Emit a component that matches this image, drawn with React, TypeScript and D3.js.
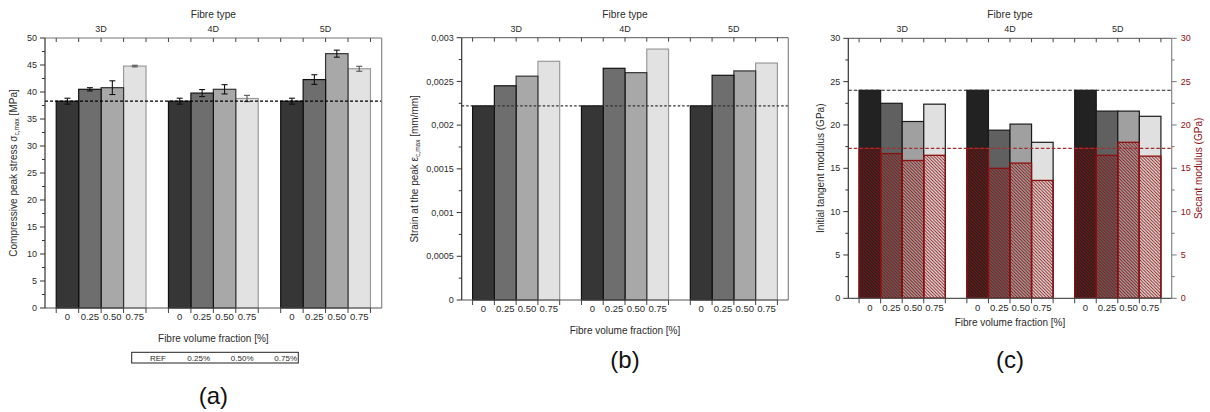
import React from "react";
import * as d3 from "d3";

// Categories
const fibreTypes = ["3D", "4D", "5D"];
const fractionLabels = ["0", "0.25", "0.50", "0.75"];
const legendLabels = ["REF", "0.25%", "0.50%", "0.75%"];

// Compressive peak stress [MPa] per fibre type (REF, 0.25, 0.50, 0.75)
const peakStress = [
  [38.3, 40.5, 40.8, 44.8],
  [38.3, 39.8, 40.5, 38.8],
  [38.3, 42.3, 47.1, 44.3],
];
const peakStressErr = [
  [0.55, 0.3, 1.27, 0.15],
  [0.55, 0.65, 0.86, 0.58],
  [0.55, 0.9, 0.65, 0.46],
];

// Strain at the peak [mm/mm]
const peakStrain = [
  [0.00222, 0.00245, 0.00256, 0.00273],
  [0.00222, 0.00265, 0.0026, 0.00287],
  [0.00222, 0.00257, 0.00262, 0.00271],
];

// Initial tangent modulus and secant modulus [GPa]
const tangentModulus = [
  [24.0, 22.5, 20.4, 22.4],
  [24.0, 19.4, 20.1, 18.0],
  [24.0, 21.6, 21.6, 21.0],
];
const secantModulus = [
  [17.3, 16.7, 15.9, 16.5],
  [17.3, 15.0, 15.6, 13.6],
  [17.3, 16.5, 18.0, 16.4],
];

const FONT = "'Liberation Sans', Arial, sans-serif";
const TEXT = "#2b2b2b";
const RED = "#8b1010";
const GREY_FILLS = ["#363636", "#6e6e6e", "#a8a8a8", "#e2e2e2"];
const GREY_STROKES = ["#111", "#111", "#333", "#9a9a9a"];
const MOD_FILLS = ["#222222", "#606060", "#a0a0a0", "#e0e0e0"];

type PanelCfg = {
  left: number;
  right: number;
  top: number;
  bottom: number;
  yMax: number;
  step: number;
  fmt: (v: number) => string;
  xTitleOffset: number;
  label: string;
  labelY: number;
};

const slotOf = (g: number, k: number) => g * 5 + k + 0.5;

function Frame({ cfg, x, y, rightTicks }: any) {
  const nMajor = Math.round(cfg.yMax / cfg.step);
  const majors = d3.range(nMajor + 1).map((i) => i * cfg.step);
  const minors = d3.range(nMajor).map((i) => (i + 0.5) * cfg.step);
  const edges = d3.range(15).map((i) => i + 0.5);
  return (
    <g fontFamily={FONT}>
      {/* top and right frame */}
      <line x1={cfg.left} x2={cfg.right} y1={cfg.top} y2={cfg.top} stroke="#777" strokeWidth={1.2} />
      <line x1={cfg.right} x2={cfg.right} y1={cfg.top} y2={cfg.bottom} stroke="#888" strokeWidth={1.2} />
      {edges.map((e) => (
        <line key={"tt" + e} x1={x(e)} x2={x(e)} y1={cfg.top} y2={cfg.top + 4} stroke="#444" strokeWidth={1} />
      ))}
      {/* bottom axis */}
      <line x1={cfg.left} x2={cfg.right} y1={cfg.bottom} y2={cfg.bottom} stroke="#555" strokeWidth={1.2} />
      {edges.map((e) => (
        <line key={"bt" + e} x1={x(e)} x2={x(e)} y1={cfg.bottom} y2={cfg.bottom + 5} stroke="#444" strokeWidth={1} />
      ))}
      {/* left axis */}
      <line x1={cfg.left} x2={cfg.left} y1={cfg.top} y2={cfg.bottom} stroke="#333" strokeWidth={1.2} />
      {majors.map((v) => (
        <g key={"ym" + v}>
          <line x1={cfg.left - 5} x2={cfg.left} y1={y(v)} y2={y(v)} stroke="#333" />
          <text x={cfg.left - 8} y={y(v)} dy="0.35em" textAnchor="end" fontSize={9} fill={TEXT}>
            {cfg.fmt(v)}
          </text>
        </g>
      ))}
      {minors.map((v) => (
        <line key={"yn" + v} x1={cfg.left - 3} x2={cfg.left} y1={y(v)} y2={y(v)} stroke="#333" />
      ))}
      {rightTicks && (
        <g>
          {majors.map((v) => (
            <g key={"rm" + v}>
              <line x1={cfg.right} x2={cfg.right + 5} y1={y(v)} y2={y(v)} stroke="#777" />
              <text x={cfg.right + 9} y={y(v)} dy="0.35em" textAnchor="start" fontSize={9} fill={RED}>
                {cfg.fmt(v)}
              </text>
            </g>
          ))}
          {minors.map((v) => (
            <line key={"rn" + v} x1={cfg.right} x2={cfg.right + 3} y1={y(v)} y2={y(v)} stroke="#777" />
          ))}
        </g>
      )}
      {/* category labels */}
      {fibreTypes.map((t, g) => (
        <g key={t}>
          <text x={x(g * 5 + 2.5)} y={29} dy="0.35em" textAnchor="middle" fontSize={9} fill={TEXT}>
            {t}
          </text>
          {fractionLabels.map((f, k) => (
            <text
              key={f}
              x={x(slotOf(g, k) + 0.5)}
              y={cfg.bottom + 9}
              dy="0.35em"
              textAnchor="middle"
              fontSize={9.5}
              fill={TEXT}
            >
              {f}
            </text>
          ))}
        </g>
      ))}
      <text x={(cfg.left + cfg.right) / 2} y={14} dy="0.35em" textAnchor="middle" fontSize={10.2} fill={TEXT}>
        Fibre type
      </text>
      <text
        x={(cfg.left + cfg.right) / 2}
        y={cfg.bottom + cfg.xTitleOffset}
        dy="0.35em"
        textAnchor="middle"
        fontSize={10}
        fill={TEXT}
      >
        Fibre volume fraction [%]
      </text>
      <text x={(cfg.left + cfg.right) / 2} y={cfg.labelY} dy="0.35em" textAnchor="middle" fontSize={24} fill="#111">
        {cfg.label}
      </text>
    </g>
  );
}

function GreyBars({ x, y, data }: any) {
  const w = x(1) - x(0);
  const items: any[] = [];
  data.forEach((row: number[], g: number) => {
    for (let k = 3; k >= 0; k--) {
      items.push(
        <rect
          key={g + "-" + k}
          x={x(slotOf(g, k))}
          y={y(row[k])}
          width={w}
          height={y(0) - y(row[k])}
          fill={GREY_FILLS[k]}
          stroke={GREY_STROKES[k]}
          strokeWidth={1.2}
        />
      );
    }
  });
  return <g>{items}</g>;
}

function PanelA() {
  const cfg: PanelCfg = {
    left: 45, right: 381.7, top: 38, bottom: 308, yMax: 50, step: 5,
    fmt: (v) => String(v), xTitleOffset: 30, label: "(a)", labelY: 396,
  };
  const x = d3.scaleLinear().domain([0, 15]).range([cfg.left, cfg.right]);
  const y = d3.scaleLinear().domain([0, cfg.yMax]).range([cfg.bottom, cfg.top]);
  const ref = peakStress[0][0];
  const legendEnds = [166, 210, 253.5, 297];
  return (
    <g>
      <GreyBars x={x} y={y} data={peakStress} />
      {peakStress.map((row, g) =>
        row.map((v, k) => {
          const cx = x(slotOf(g, k) + 0.5);
          const e = peakStressErr[g][k];
          const col = k === 3 ? "#555" : "#111";
          return (
            <g key={g + "e" + k} stroke={col} strokeWidth={1.1}>
              <line x1={cx} x2={cx} y1={y(v - e)} y2={y(v + e)} />
              <line x1={cx - 3} x2={cx + 3} y1={y(v - e)} y2={y(v - e)} />
              <line x1={cx - 3} x2={cx + 3} y1={y(v + e)} y2={y(v + e)} />
            </g>
          );
        })
      )}
      <line x1={cfg.left} x2={cfg.right} y1={y(ref)} y2={y(ref)} stroke="#000" strokeWidth={1.2} strokeDasharray="3,2" />
      <Frame cfg={cfg} x={x} y={y} />
      <text
        transform={`translate(13,${(cfg.top + cfg.bottom) / 2}) rotate(-90)`}
        textAnchor="middle"
        dy="0.35em"
        fontFamily={FONT}
        fontSize={10}
        fill={TEXT}
      >
        Compressive peak stress σ
        <tspan fontSize={6.5} dy={2.5}>c,max</tspan>
        <tspan dy={-2.5}> [MPa]</tspan>
      </text>
      <rect x={131.7} y={352.3} width={166.6} height={10.7} fill="#fff" stroke="#222" strokeWidth={1} />
      {legendLabels.map((l, i) => (
        <text key={l} x={legendEnds[i]} y={357.7} dy="0.35em" textAnchor="end" fontFamily={FONT} fontSize={8} fill={TEXT}>
          {l}
        </text>
      ))}
    </g>
  );
}

function PanelB() {
  const cfg: PanelCfg = {
    left: 461.7, right: 788.3, top: 37.7, bottom: 300, yMax: 0.003, step: 0.0005,
    fmt: (v) => (v === 0 ? "0" : String(+v.toFixed(4)).replace(".", ",")),
    xTitleOffset: 30, label: "(b)", labelY: 360,
  };
  const x = d3.scaleLinear().domain([0, 15]).range([cfg.left, cfg.right]);
  const y = d3.scaleLinear().domain([0, cfg.yMax]).range([cfg.bottom, cfg.top]);
  const ref = peakStrain[0][0];
  return (
    <g>
      <GreyBars x={x} y={y} data={peakStrain} />
      <line x1={cfg.left} x2={cfg.right} y1={y(ref)} y2={y(ref)} stroke="#333" strokeWidth={1.3} strokeDasharray="2.5,2" />
      <Frame cfg={cfg} x={x} y={y} />
      <text
        transform={`translate(414,${(cfg.top + cfg.bottom) / 2}) rotate(-90)`}
        textAnchor="middle"
        dy="0.35em"
        fontFamily={FONT}
        fontSize={10}
        fill={TEXT}
      >
        Strain at the peak ε
        <tspan fontSize={6.5} dy={2.5}>c,max</tspan>
        <tspan dy={-2.5}> [mm/mm]</tspan>
      </text>
    </g>
  );
}

function PanelC() {
  const cfg: PanelCfg = {
    left: 848.3, right: 1171.7, top: 38.3, bottom: 298.3, yMax: 30, step: 5,
    fmt: (v) => String(v), xTitleOffset: 24, label: "(c)", labelY: 360,
  };
  const x = d3.scaleLinear().domain([0, 15]).range([cfg.left, cfg.right]);
  const y = d3.scaleLinear().domain([0, cfg.yMax]).range([cfg.bottom, cfg.top]);
  const w = x(1) - x(0);
  return (
    <g>
      <defs>
        <pattern id="secantHatch" patternUnits="userSpaceOnUse" width={3.2} height={3.2}>
          <path d="M-1,-1 L4.2,4.2 M-1,2.2 L1,4.2 M2.2,-1 L4.2,1" stroke={RED} strokeWidth={0.9} />
        </pattern>
      </defs>
      {tangentModulus.map((row, g) =>
        row.map((v, k) => (
          <rect
            key={g + "t" + k}
            x={x(slotOf(g, k))}
            y={y(v)}
            width={w}
            height={y(0) - y(v)}
            fill={MOD_FILLS[k]}
            stroke="#1a1a1a"
            strokeWidth={1.2}
          />
        ))
      )}
      {secantModulus.map((row, g) =>
        row.map((v, k) => (
          <rect
            key={g + "s" + k}
            x={x(slotOf(g, k))}
            y={y(v)}
            width={w}
            height={y(0) - y(v)}
            fill="url(#secantHatch)"
            stroke={RED}
            strokeWidth={1.3}
          />
        ))
      )}
      <line x1={cfg.left} x2={cfg.right} y1={y(tangentModulus[0][0])} y2={y(tangentModulus[0][0])} stroke="#222" strokeWidth={1.1} strokeDasharray="3.5,2" />
      <line x1={cfg.left} x2={cfg.right} y1={y(secantModulus[0][0])} y2={y(secantModulus[0][0])} stroke="#a03030" strokeWidth={1.1} strokeDasharray="3.5,2" />
      <Frame cfg={cfg} x={x} y={y} rightTicks />
      <text
        transform={`translate(820,${(cfg.top + cfg.bottom) / 2}) rotate(-90)`}
        textAnchor="middle"
        dy="0.35em"
        fontFamily={FONT}
        fontSize={10}
        fill={TEXT}
      >
        Initial tangent modulus (GPa)
      </text>
      <text
        transform={`translate(1198,${(cfg.top + cfg.bottom) / 2}) rotate(-90)`}
        textAnchor="middle"
        dy="0.35em"
        fontFamily={FONT}
        fontSize={10}
        fill={RED}
      >
        Secant modulus (GPa)
      </text>
    </g>
  );
}

export default function App() {
  return (
    <svg
      width={1210}
      height={412}
      viewBox="0 0 1210 412"
      style={{ position: "absolute", left: 0, top: 0, background: "#fff" }}
    >
      <rect width={1210} height={412} fill="#fff" />
      <PanelA />
      <PanelB />
      <PanelC />
    </svg>
  );
}
